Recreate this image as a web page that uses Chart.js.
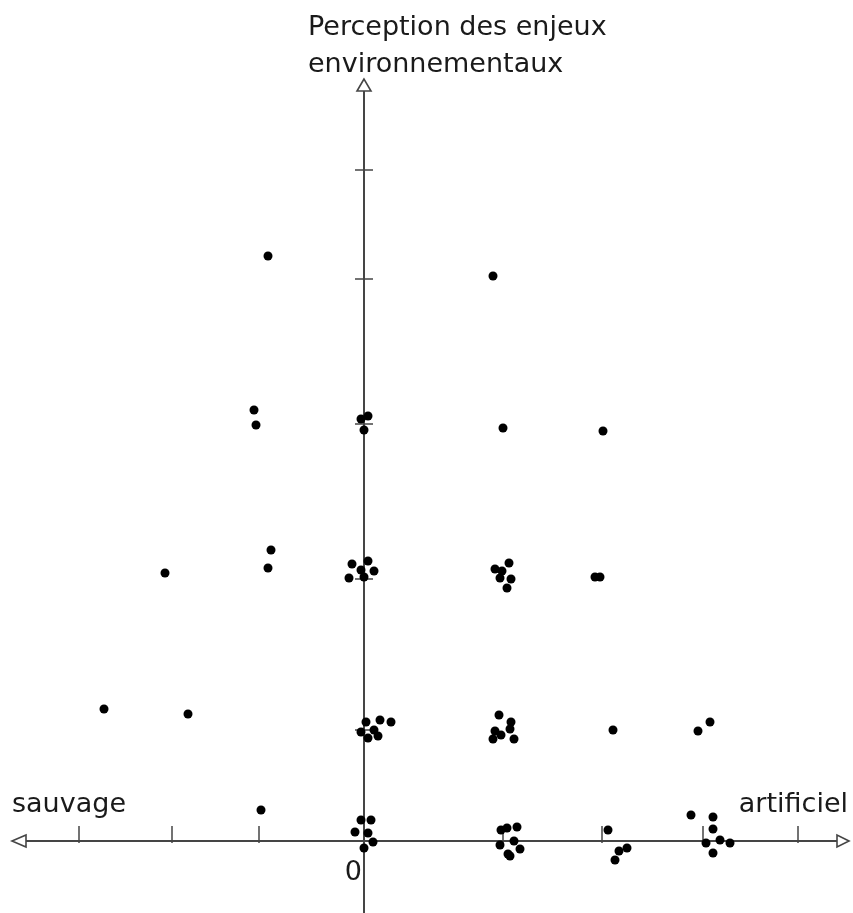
<!DOCTYPE html>
<html>
<head>
<meta charset="utf-8">
<script src="https://cdn.jsdelivr.net/npm/chart.js@4/dist/chart.umd.min.js"></script>
<style>
html,body{margin:0;padding:0;background:#fff;}
#wrap{width:853px;height:913px;position:relative;}
</style>
</head>
<body>
<div id="wrap"><canvas id="c"></canvas></div>
<script>
// Point values (x: sauvage(-) … artificiel(+), y: perception des enjeux environnementaux)
const pointsX = [
  -0.03, 0.07, -0.09, 0.04, 0.09, 0.00,
  1.37, 1.43, 1.53, 1.36, 1.50, 1.56, 1.44, 1.46,
  2.44, 2.63, 2.55, 2.51,
  3.27, 3.49, 3.49, 3.42, 3.56, 3.66, 3.49,
  -1.03,
  -2.60, -1.76,
  0.02, 0.16, 0.27, -0.03, 0.04, 0.10, 0.14,
  1.35, 1.47, 1.46, 1.31, 1.37, 1.29, 1.50,
  2.49, 3.34, 3.46,
  -1.99, -0.93, -0.96,
  -0.12, 0.04, -0.03, 0.10, -0.15, 0.00,
  1.45, 1.31, 1.38, 1.36, 1.47, 1.43,
  2.31, 2.36,
  -1.10, -1.08,
  -0.03, 0.04, 0.00,
  1.39, 2.39,
  -0.96, 1.29
];
const pointsY = [
  0.21, 0.21, 0.09, 0.08, -0.01, -0.07,
  0.11, 0.13, 0.14, -0.04, 0.00, -0.08, -0.13, -0.15,
  0.11, -0.07, -0.10, -0.19,
  0.26, 0.24, 0.12, -0.02, 0.01, -0.02, -0.12,
  0.31,
  1.32, 1.27,
  1.19, 1.21, 1.19, 1.09, 1.03, 1.11, 1.05,
  1.26, 1.19, 1.12, 1.10, 1.06, 1.02, 1.02,
  1.11, 1.10, 1.19,
  2.68, 2.91, 2.73,
  2.77, 2.80, 2.71, 2.70, 2.63, 2.64,
  2.78, 2.72, 2.70, 2.63, 2.62, 2.53,
  2.64, 2.64,
  4.31, 4.16,
  4.22, 4.25, 4.11,
  4.13, 4.10,
  5.85, 5.65
];
// Hand-drawn tick positions on each axis
const xTicks = [-2.85, -1.92, -1.05, 1.39, 2.38, 3.39, 4.34];
const yTicks = [1.11, 2.62, 4.17, 5.62, 6.71];
const xLabelLeft = 'sauvage';
const xLabelRight = 'artificiel';
const yTitleLines = ['Perception des enjeux', 'environnementaux'];
const originLabel = '0';

const data = pointsX.map((x, i) => ({ x: x, y: pointsY[i] }));

const FONT = '27px "DejaVu Sans", sans-serif';
const AXIS = '#454545';
const TEXT = '#1a1a1a';

const axesPlugin = {
  id: 'centerAxes',
  beforeDatasetsDraw(chart) {
    const ctx = chart.ctx;
    const xs = chart.scales.x, ys = chart.scales.y;
    const area = chart.chartArea;
    const ox = xs.getPixelForValue(0);
    const oy = ys.getPixelForValue(0);
    ctx.save();
    ctx.strokeStyle = AXIS;
    ctx.lineWidth = 2;
    // x axis line
    const leftTip = area.left + 12, leftBase = area.left + 26;
    const rightTip = area.right - 4, rightBase = area.right - 16;
    ctx.beginPath();
    ctx.moveTo(leftBase, oy);
    ctx.lineTo(rightBase, oy);
    ctx.stroke();
    // y axis line
    const topTip = area.top + 79, topBase = area.top + 91;
    ctx.beginPath();
    ctx.moveTo(ox, topBase);
    ctx.lineTo(ox, area.bottom);
    ctx.stroke();
    // x ticks
    ctx.lineWidth = 1.5;
    xTicks.forEach(v => {
      const px = xs.getPixelForValue(v);
      ctx.beginPath();
      ctx.moveTo(px, oy - 15);
      ctx.lineTo(px, oy + 2);
      ctx.stroke();
    });
    // y ticks
    yTicks.forEach(v => {
      const py = ys.getPixelForValue(v);
      ctx.beginPath();
      ctx.moveTo(ox - 9, py);
      ctx.lineTo(ox + 9, py);
      ctx.stroke();
    });
    // arrows (open triangles)
    ctx.lineWidth = 1.6;
    ctx.fillStyle = '#fff';
    ctx.beginPath();
    ctx.moveTo(leftTip, oy);
    ctx.lineTo(leftBase, oy - 6);
    ctx.lineTo(leftBase, oy + 6);
    ctx.closePath();
    ctx.fill(); ctx.stroke();
    ctx.beginPath();
    ctx.moveTo(rightTip, oy);
    ctx.lineTo(rightBase, oy - 6);
    ctx.lineTo(rightBase, oy + 6);
    ctx.closePath();
    ctx.fill(); ctx.stroke();
    ctx.beginPath();
    ctx.moveTo(ox, topTip);
    ctx.lineTo(ox - 7, topBase);
    ctx.lineTo(ox + 7, topBase);
    ctx.closePath();
    ctx.fill(); ctx.stroke();
    // labels
    ctx.fillStyle = TEXT;
    ctx.font = FONT;
    ctx.textBaseline = 'alphabetic';
    ctx.textAlign = 'left';
    ctx.fillText(xLabelLeft, area.left + 12, oy - 29);
    ctx.textAlign = 'right';
    ctx.fillText(xLabelRight, area.right - 5, oy - 29);
    ctx.fillText(originLabel, ox - 2, oy + 39);
    ctx.textAlign = 'left';
    ctx.fillText(yTitleLines[0], ox - 56, area.top + 35);
    ctx.fillText(yTitleLines[1], ox - 56, area.top + 72);
    ctx.restore();
  }
};

new Chart(document.getElementById('c'), {
  type: 'scatter',
  data: {
    datasets: [{
      data: data,
      backgroundColor: '#000',
      borderColor: '#000',
      borderWidth: 0,
      pointRadius: 4.5,
      pointHoverRadius: 4.5
    }]
  },
  options: {
    responsive: true,
    maintainAspectRatio: false,
    animation: false,
    layout: { padding: 0, autoPadding: false },
    plugins: { legend: { display: false }, tooltip: { enabled: false } },
    scales: {
      x: { type: 'linear', display: false, min: -3.64, max: 4.89 },
      y: { type: 'linear', display: false, min: -0.72, max: 8.41 }
    }
  },
  plugins: [axesPlugin]
});
</script>
</body>
</html>
